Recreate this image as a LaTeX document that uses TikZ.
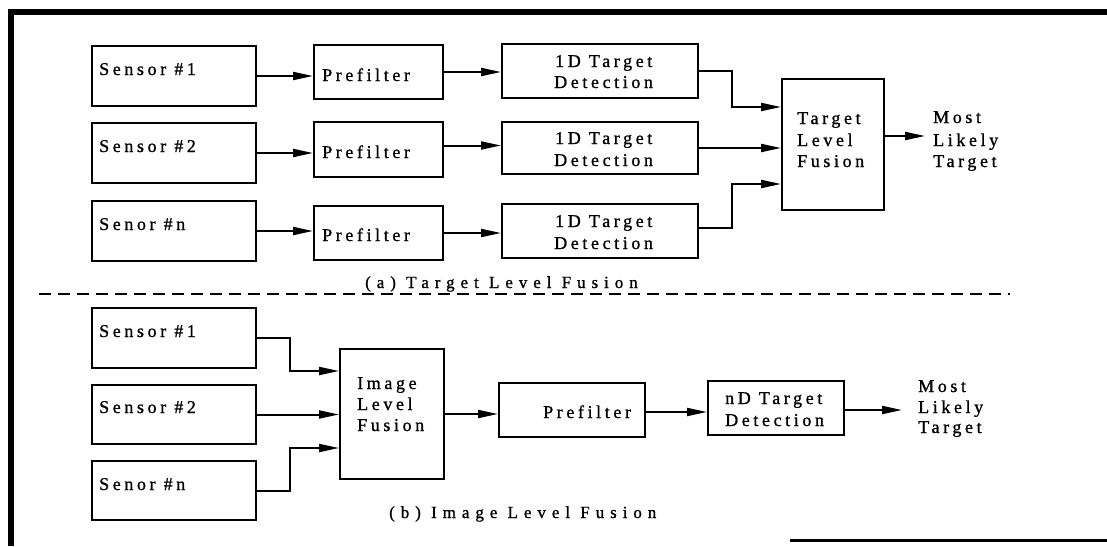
\documentclass[tikz,border=0pt]{standalone}
\usepackage{fontspec}
\setmainfont{Liberation Serif}[LetterSpace=20,FakeBold=1]
\newfontfamily\capfont{Liberation Serif}[LetterSpace=35,FakeBold=1]
\usetikzlibrary{arrows.meta,calc}
\begin{document}
\begin{tikzpicture}[x=1pt,y=-1pt,
  box/.style={draw,line width=2pt,inner sep=0pt,anchor=north west},
  txt/.style={anchor=base west,inner sep=0pt,font=\fontsize{18}{21}\selectfont},
  ctxt/.style={anchor=base west,inner sep=0pt,font=\capfont\fontsize{17}{20}\selectfont},
  arr/.style={line width=2pt,-{Triangle[length=20pt,width=8pt]}},
  frame/.style={line width=6pt}]
\useasboundingbox (0,0) rectangle (1107,546);
% frame
\draw[frame] (11,546) -- (11,11.5) -- (1107,11.5);
\draw[line width=3pt] (790,540.5) -- (1107,540.5);
% ---------- (a) ----------
\node[box,minimum width=164pt,minimum height=60pt] (s1) at (91,45) {};
\node[box,minimum width=164pt,minimum height=60pt] (s2) at (91,122) {};
\node[box,minimum width=164pt,minimum height=60pt] (sn) at (91,200) {};
\node[box,minimum width=129pt,minimum height=54pt] (p1) at (313,44) {};
\node[box,minimum width=129pt,minimum height=55pt] (p2) at (313,121) {};
\node[box,minimum width=129pt,minimum height=54pt] (p3) at (313,205) {};
\node[box,minimum width=196pt,minimum height=54pt] (d1) at (501,43) {};
\node[box,minimum width=196pt,minimum height=52pt] (d2) at (501,121) {};
\node[box,minimum width=196pt,minimum height=54pt] (d3) at (501,203) {};
\node[box,minimum width=102pt,minimum height=131pt] (f) at (781,78) {};
\coordinate (o1) at (925,136);

\node[txt] (s1t) at (99,75) {Sensor \#1};
\node[txt] (s2t) at (99,152) {Sensor \#2};
\node[txt] (snt) at (99,230) {Senor \#n};
\node[txt] (p1t) at (322,81) {Prefilter};
\node[txt] (p2t) at (322,158) {Prefilter};
\node[txt] (p3t) at (322,241) {Prefilter};
\node[txt] (d1a) at (555,67) {1D Target};
\node[txt] (d1b) at (554,88) {Detection};
\node[txt] (d2a) at (555,144) {1D Target};
\node[txt] (d2b) at (554,166) {Detection};
\node[txt] (d3a) at (555,227) {1D Target};
\node[txt] (d3b) at (554,249) {Detection};
\node[txt] (fa) at (797,124) {Target};
\node[txt] (fb) at (797,146) {Level};
\node[txt] (fc) at (797,167) {Fusion};
\node[txt] (ma) at (933,123) {Most};
\node[txt] (mb) at (933,146) {Likely};
\node[txt] (mc) at (933,167) {Target};

\draw[arr] (s1.east) -- (s1.east -| p1.west);
\draw[arr] (s2.east) -- (s2.east -| p2.west);
\draw[arr] (sn.east) -- (sn.east -| p3.west);
\draw[arr] (p1.east) -- (p1.east -| d1.west);
\draw[arr] ($(p2.east)+(0,-4)$) -- ($(p2.east -| d2.west)+(0,-4)$);
\draw[arr] (p3.east) -- (p3.east -| d3.west);
\draw[arr] (d1.east) -- ++(33,0) |- ($(f.north west)+(0,29)$);
\draw[arr] (d2.east) -- (d2.east -| f.west);
\draw[arr] ($(d3.east)+(0,-3)$) -- ++(33,0) |- ($(f.north west)+(0,106)$);
\draw[arr] (f.east |- o1) -- (o1);

\node[ctxt] (capa) at (365,288) {(a) Target Level Fusion};
\draw[line width=1.4pt,dash pattern=on 12pt off 7pt] (39,294) -- (1010,294);

% ---------- (b) ----------
\node[box,minimum width=164pt,minimum height=60pt] (b1) at (91,307) {};
\node[box,minimum width=164pt,minimum height=59pt] (b2) at (91,384) {};
\node[box,minimum width=164pt,minimum height=59pt] (bn) at (91,460) {};
\node[box,minimum width=104pt,minimum height=130pt] (ilf) at (339,348) {};
\node[box,minimum width=146pt,minimum height=54pt] (pb) at (498,382) {};
\node[box,minimum width=136pt,minimum height=54pt] (nd) at (707,380) {};
\coordinate (o2) at (902,410);

\node[txt] (b1t) at (99,337) {Sensor \#1};
\node[txt] (b2t) at (99,413) {Sensor \#2};
\node[txt] (bnt) at (99,490) {Senor \#n};
\node[txt] (ia) at (357,389) {Image};
\node[txt] (ib) at (357,410) {Level};
\node[txt] (ic) at (357,431) {Fusion};
\node[txt] (pbt) at (543,418) {Prefilter};
\node[txt] (nda) at (725,404) {nD Target};
\node[txt] (ndb) at (725,426) {Detection};
\node[txt] (m2a) at (918,392) {Most};
\node[txt] (m2b) at (918,413) {Likely};
\node[txt] (m2c) at (918,433) {Target};

\draw[arr] (b1.east) -- ++(33,0) |- ($(ilf.north west)+(0,23)$);
\draw[arr] (b2.east) -- (b2.east -| ilf.west);
\draw[arr] (bn.east) -- ++(33,0) |- ($(ilf.north west)+(0,100)$);
\draw[arr] (ilf.east) -- (ilf.east -| pb.west);
\draw[arr] ($(pb.east)+(0,2)$) -- ($(pb.east -| nd.west)+(0,2)$);
\draw[arr] (nd.east |- o2) -- (o2);

\node[ctxt] (capb) at (389,518) {(b) Image Level Fusion};
\end{tikzpicture}
\end{document}
